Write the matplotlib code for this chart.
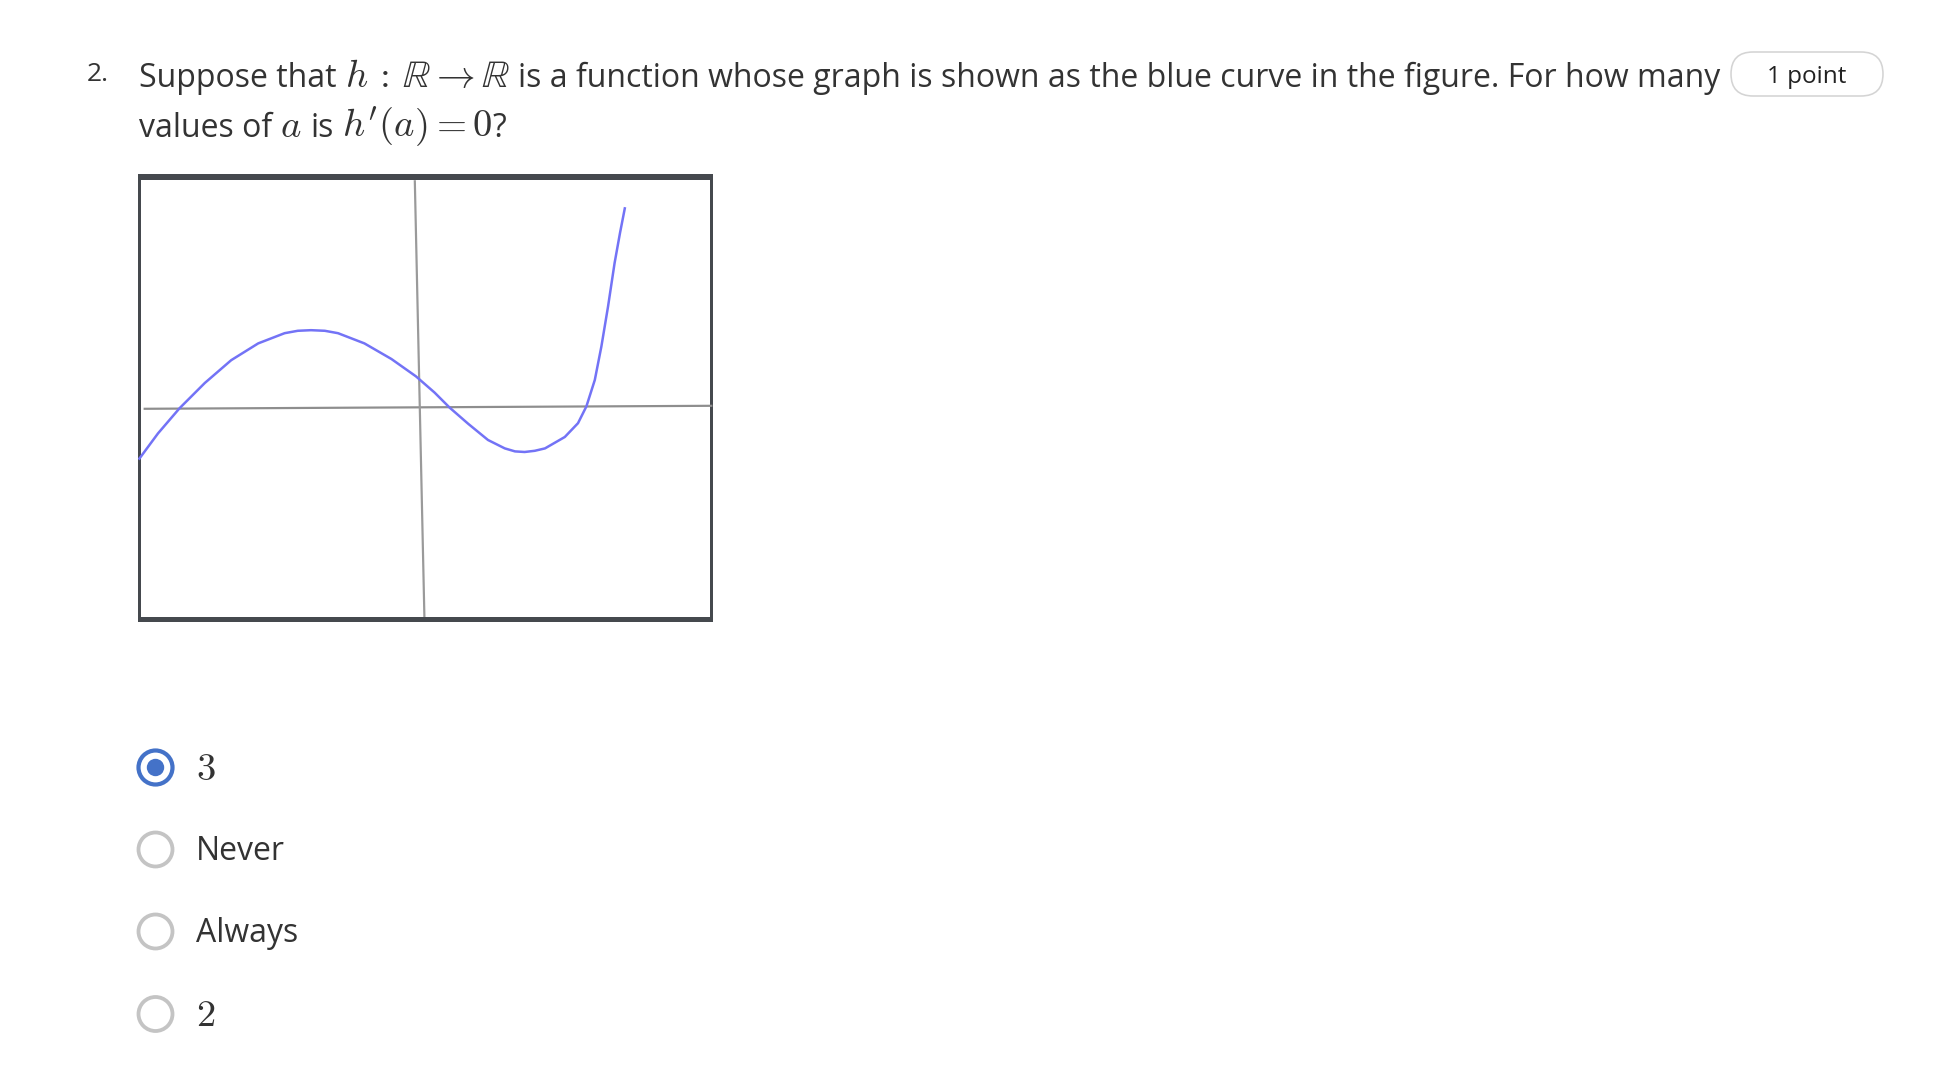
import matplotlib
matplotlib.use("Agg")
import matplotlib.pyplot as plt
from matplotlib.patches import Circle, Rectangle, FancyBboxPatch

plt.rcParams['mathtext.fontset'] = 'cm'

# ---------------- data ----------------
question_number = "2."
line1_pieces = [("Suppose that", "text"), ("$h\\,:\\,\\mathbb{R}\\to\\mathbb{R}$", "math"),
                ("is a function whose graph is shown as the blue curve in the figure. For how many", "text")]
line2_pieces = [("values of", "text"), ("$a$", "math"), ("is", "text"),
                ("$h'(a)=0$", "math"), ("?", "text")]
badge_label = "1 point"
options = ["$3$", "Never", "Always", "$2$"]
option_is_math = [True, False, False, True]
selected_index = 0

# blue curve (graph units: origin at the axes crossing)
curve_x = [-4.66, -4.35, -3.99, -3.57, -3.13, -2.68, -2.24, -2.02, -1.80, -1.57,
           -1.35, -0.91, -0.46, -0.05, 0.26, 0.51, 0.82, 1.15, 1.43, 1.60,
           1.76, 1.93, 2.10, 2.43, 2.65, 2.79, 2.93, 3.04, 3.15, 3.26,
           3.35, 3.43]
curve_y = [-0.86, -0.44, -0.02, 0.40, 0.78, 1.06, 1.23, 1.27, 1.28, 1.27,
           1.23, 1.06, 0.80, 0.51, 0.24, -0.01, -0.28, -0.55, -0.69, -0.74,
           -0.75, -0.73, -0.69, -0.50, -0.27, 0.01, 0.45, 1.01, 1.67, 2.40,
           2.90, 3.31]
# drawn axis lines (slightly tilted in the picture)
haxis_x = [-4.59, 4.89]
haxis_y = [-0.03, 0.02]
vaxis_x = [-0.07, 0.09]
vaxis_y = [3.78, -3.50]
graph_xlim = (-4.675, 4.90)
graph_ylim = (-3.575, 3.883)

# ---------------- styles ----------------
W, H = 1958, 1074
DPI = 100
FONT = ["Open Sans", "DejaVu Sans"]
TXT = "#333333"
FS = 23
MFS = FS * 1.21
PX = 72.0 / DPI  # points per pixel

fig = plt.figure(figsize=(W / DPI, H / DPI), dpi=DPI)
page = fig.add_axes([0, 0, 1, 1], zorder=0)
page.set_xlim(0, W)
page.set_ylim(H, 0)
page.axis("off")
renderer = fig.canvas.get_renderer()

space_w = FS / 72 * DPI * 0.26


def draw_seq(x, y, pieces):
    for i, (s, kind) in enumerate(pieces):
        if kind == "math":
            t = page.text(x, y, s, fontsize=MFS, color=TXT, va="baseline", ha="left")
        else:
            t = page.text(x, y, s, fontsize=FS, family=FONT, color=TXT, va="baseline", ha="left")
        bb = t.get_window_extent(renderer)
        x += bb.width
        if i + 1 < len(pieces) and not pieces[i + 1][0].startswith("?"):
            x += space_w
    return x


# question number and text
page.text(87, 81, question_number, fontsize=19, family=FONT, color=TXT, va="baseline", ha="left")
draw_seq(139, 87, line1_pieces)
draw_seq(139, 137, line2_pieces)

# badge
badge = FancyBboxPatch((1731, 52), 152, 44, boxstyle="round,pad=0,rounding_size=22",
                       fc="white", ec="#d4d4d4", lw=1.6 * PX)
page.add_patch(badge)
page.text(1807, 77, badge_label, fontsize=17.5, family=FONT, color="#222222",
          va="center", ha="center")

# graph
gl, gr, gt, gb = 138.5, 713.0, 174.0, 621.5
gax = fig.add_axes([gl / W, 1 - gb / H, (gr - gl) / W, (gb - gt) / H], zorder=1)
gax.set_xlim(*graph_xlim)
gax.set_ylim(*graph_ylim)
gax.set_facecolor("none")
gax.axis("off")
gax.plot(haxis_x, haxis_y, color="#8e8e8e", lw=2.2 * PX, solid_capstyle="butt")
gax.plot(vaxis_x, vaxis_y, color="#9a9a9a", lw=2.2 * PX, solid_capstyle="butt")
gax.plot(curve_x, curve_y, color="#7373f6", lw=2.5 * PX, solid_joinstyle="round")
# frame
BC = "#45494e"
for (x0, y0, w, h) in [(gl, gt, gr - gl, 5.5), (gl, gb - 5, gr - gl, 5),
                        (gl, gt, 2.8, gb - gt), (gr - 2.8, gt, 2.8, gb - gt)]:
    gax.add_patch(Rectangle((x0, y0), w, h, transform=page.transData, fc=BC, ec="none",
                            clip_on=False))

# radio options
cx = 155.5
cys = [767.5, 849.5, 931.5, 1014.0]
for i, (lab, ismath, cy) in enumerate(zip(options, option_is_math, cys)):
    if i == selected_index:
        page.add_patch(Circle((cx, cy), 17, fill=False, ec="#4472c8", lw=4.2 * PX))
        page.add_patch(Circle((cx, cy), 8.7, fc="#4472c8", ec="none"))
    else:
        page.add_patch(Circle((cx, cy), 17, fill=False, ec="#c4c4c4", lw=3.8 * PX))
    if ismath:
        page.text(196, cy + 12, lab, fontsize=MFS, color=TXT, va="baseline", ha="left")
    else:
        page.text(196, cy + 11, lab, fontsize=FS, family=FONT, color=TXT, va="baseline", ha="left")

fig.savefig("out.png", dpi=DPI, facecolor="white")
